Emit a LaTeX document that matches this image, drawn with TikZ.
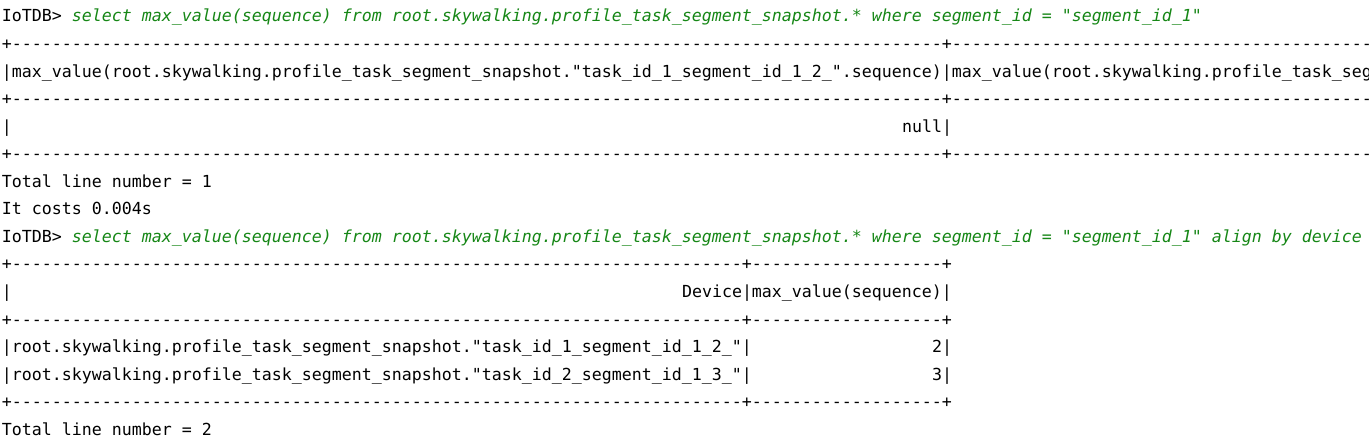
\documentclass[tikz,border=0pt]{standalone}
\usepackage{fontspec}
\setmonofont{DejaVu Sans Mono}
\definecolor{querygreen}{RGB}{22,135,22}
\newcommand{\termsize}{\fontsize{16.61}{20}\selectfont}
\newcommand{\dashes}[1]{\foreach \k in {1,...,#1}{-}}
\tikzset{
  cell/.style={anchor=base west, inner sep=0pt, outer sep=0pt, font=\ttfamily\termsize},
  query/.style={cell, font=\ttfamily\itshape\termsize, text=querygreen}
}
\begin{document}
\frenchspacing
\begin{tikzpicture}[x=10pt, y=-27.55pt]
        % page
        \useasboundingbox (-0.2,0.2015) rectangle (136.7,16.2813);
        \fill[white] (-0.2,0.2015) rectangle (136.7,16.2813);
        \clip (-0.2,0.2015) rectangle (136.7,16.2813);

        % first query
        \node[cell] (prompt1) at (0,1) {IoTDB>};
        \node[query] (query1) at (7,1) {select max\_value(sequence) from root.skywalking.profile\_task\_segment\_snapshot.* where segment\_id = "segment\_id\_1"};
        \foreach \r in {2,4,6} {
          \node[cell] (sepA\r) at (0,\r) {+\dashes{93}+\dashes{50}};
        }
        \node[cell] (headA) at (0,3) {|max\_value(root.skywalking.profile\_task\_segment\_snapshot."task\_id\_1\_segment\_id\_1\_2\_".sequence)|max\_value(root.skywalking.profile\_task\_segment\_snapshot."task\_id\_2\_segment\_id\_1\_3\_".sequence)|};
        \node[cell] (rowAl) at (0,5) {|};
        \node[cell] (rowAr) at (90,5) {null|};
        \node[cell] (totalA) at (0,7) {Total line number = 1};
        \node[cell] (costA) at (0,8) {It costs 0.004s};

        % second query
        \node[cell] (prompt2) at (0,9) {IoTDB>};
        \node[query] (query2) at (7,9) {select max\_value(sequence) from root.skywalking.profile\_task\_segment\_snapshot.* where segment\_id = "segment\_id\_1" align by device};
        \foreach \r in {10,12,15} {
          \node[cell] (sepB\r) at (0,\r) {+\dashes{73}+\dashes{19}+};
        }
        \node[cell] (headBl) at (0,11) {|};
        \node[cell] (headBr) at (68,11) {Device|max\_value(sequence)|};
        \node[cell] (dev1) at (0,13) {|root.skywalking.profile\_task\_segment\_snapshot."task\_id\_1\_segment\_id\_1\_2\_"|};
        \node[cell] (val1) at (93,13) {2|};
        \node[cell] (dev2) at (0,14) {|root.skywalking.profile\_task\_segment\_snapshot."task\_id\_2\_segment\_id\_1\_3\_"|};
        \node[cell] (val2) at (93,14) {3|};
        \node[cell] (totalB) at (0,16) {Total line number = 2};

        \end{tikzpicture}
\end{document}
